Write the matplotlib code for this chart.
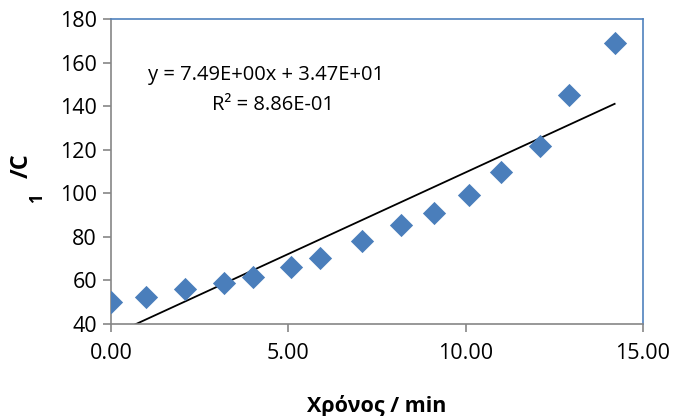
import matplotlib
matplotlib.use("Agg")
import matplotlib.pyplot as plt
import numpy as np

# data
time_min = [0.0, 0.98, 2.08, 3.18, 4.0, 5.08, 5.89, 7.09, 8.18, 9.1, 10.1, 11.0, 12.1, 12.9, 14.2]
inv_c = [50.1, 52.4, 56.0, 58.8, 61.5, 66.1, 70.5, 78.3, 85.3, 90.8, 99.1, 109.9, 121.8, 144.9, 169.2]
slope = 7.49
intercept = 34.7
eq_text = "y = 7.49E+00x + 3.47E+01"
r2_text = "R² = 8.86E-01"
x_ticks = [0, 5, 10, 15]
x_tick_labels = ["0.00", "5.00", "10.00", "15.00"]
y_ticks = [40, 60, 80, 100, 120, 140, 160, 180]

plt.rcParams['font.family'] = ['Open Sans', 'DejaVu Sans']

W, H = 678, 416
fig = plt.figure(figsize=(W / 100, H / 100), dpi=100)
ax = fig.add_axes([111 / W, 1 - 324 / H, (643 - 111) / W, (324 - 19) / H])

ax.scatter(time_min, inv_c, marker='D', s=140, color='#4A7EBB', zorder=3, linewidths=0)

# linear trendline over the data range
xfit = np.array([time_min[0], time_min[-1]])
ax.plot(xfit, slope * xfit + intercept, color='black', lw=1.3, zorder=2)

ax.set_xlim(0, 15)
ax.set_ylim(40, 180)
ax.set_xticks(x_ticks)
ax.set_xticklabels(x_tick_labels)
ax.set_yticks(y_ticks)
ax.tick_params(axis='both', labelsize=15.5, color='#868686', length=6, width=1.2)
ax.tick_params(axis='x', pad=8)
ax.tick_params(axis='y', pad=4)

for side in ['left', 'bottom']:
    ax.spines[side].set_color('#868686')
    ax.spines[side].set_linewidth(1.2)
for side in ['top', 'right']:
    ax.spines[side].set_color('#4F81BD')
    ax.spines[side].set_linewidth(1.2)

ax.text(148 / W, 1 - 75 / H, eq_text, transform=fig.transFigure, fontsize=14.5, va='center', ha='left')
ax.text(212 / W, 1 - 105 / H, r2_text, transform=fig.transFigure, fontsize=14.5, va='center', ha='left')

ax.set_xlabel("Χρόνος / min", fontsize=15.5, fontweight='bold', labelpad=22)

fig.text(22 / W, 1 - 166 / H, "/C", rotation=90, fontsize=17, fontweight='bold', ha='center', va='center')
fig.text(37 / W, 1 - 198 / H, "1", rotation=90, fontsize=12, fontweight='bold', ha='center', va='center')

fig.savefig("out.png", dpi=100)
